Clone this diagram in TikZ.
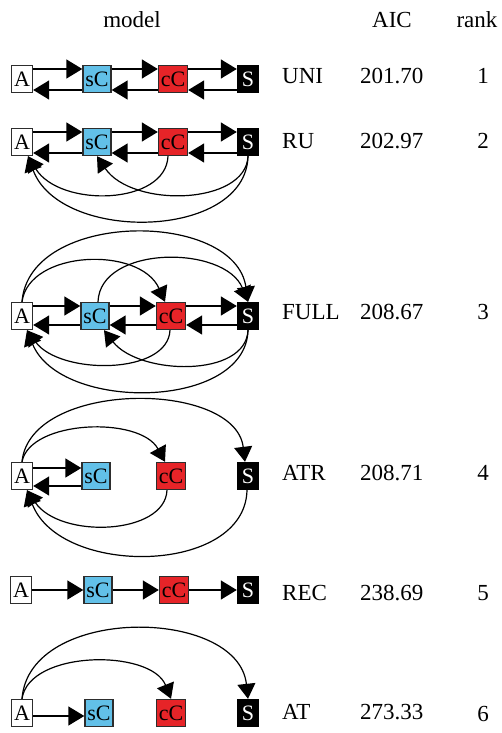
\documentclass[tikz,border=0pt]{standalone}
\usepackage{fontspec}
\setmainfont{Liberation Serif}
\usetikzlibrary{arrows.meta}
\definecolor{sblue}{RGB}{98,192,232}
\definecolor{cred}{RGB}{230,36,40}
\definecolor{edgegray}{RGB}{45,45,45}
\begin{document}
\begin{tikzpicture}[x=1pt,y=-1pt,
  box/.style={draw=edgegray,line width=1.4pt,minimum height=27pt,inner sep=0pt,font=\fontsize{22}{24}\selectfont},
  abox/.style={box,fill=white,minimum width=21pt},
  sbox/.style={box,fill=sblue,minimum width=28pt},
  cbox/.style={box,fill=cred,minimum width=29pt},
  kbox/.style={box,fill=black,draw=black,text=white,minimum width=21pt},
  arr/.style={line width=1.5pt,-{Triangle[length=16pt,width=19pt]}},
  carr/.style={line width=1.2pt,-{Triangle[length=15pt,width=18pt]}},
  lab/.style={anchor=base west,inner sep=0pt,font=\fontsize{23}{27}\selectfont},
  rk/.style={anchor=base,inner sep=0pt,font=\fontsize{23}{27}\selectfont}
]
\useasboundingbox (0,0) rectangle (502,733);

% headers
\node[rk] (hmodel) at (132,28) {model};
\node[rk] (haic) at (392,28) {AIC};
\node[rk] (hrank) at (477,28) {rank};

% ---------- Row 1: UNI
\node[abox] (a1) at (22,79) {A};
\node[sbox] (s1) at (97,79) {sC};
\node[cbox] (c1) at (173,79) {cC};
\node[kbox] (k1) at (248,79) {S};
\draw[arr] ([yshift=10pt]a1.east) -- ([yshift=10pt]s1.west);
\draw[arr] ([yshift=10pt]s1.east) -- ([yshift=10pt]c1.west);
\draw[arr] ([yshift=10pt]c1.east) -- ([yshift=10pt]k1.west);
\draw[arr] ([yshift=-11pt]s1.west) -- ([yshift=-11pt]a1.east);
\draw[arr] ([yshift=-11pt]c1.west) -- ([yshift=-11pt]s1.east);
\draw[arr] ([yshift=-11pt]k1.west) -- ([yshift=-11pt]c1.east);
\node[lab] (l1) at (282,84) {UNI};
\node[lab] (v1) at (360,84) {201.70};
\node[rk] (r1) at (483,84) {1};

% ---------- Row 2: RU
\node[abox] (a2) at (22,142) {A};
\node[sbox] (s2) at (97,142) {sC};
\node[cbox] (c2) at (173,142) {cC};
\node[kbox] (k2) at (248,142) {S};
\draw[arr] ([yshift=10pt]a2.east) -- ([yshift=10pt]s2.west);
\draw[arr] ([yshift=10pt]s2.east) -- ([yshift=10pt]c2.west);
\draw[arr] ([yshift=10pt]c2.east) -- ([yshift=10pt]k2.west);
\draw[arr] ([yshift=-11pt]s2.west) -- ([yshift=-11pt]a2.east);
\draw[arr] ([yshift=-11pt]c2.west) -- ([yshift=-11pt]s2.east);
\draw[arr] ([yshift=-11pt]k2.west) -- ([yshift=-11pt]c2.east);
\draw[carr] ([xshift=-5pt]c2.south) .. controls +(-2,49) and +(32,52) .. ([xshift=6pt]a2.south);
\draw[carr] (k2.south) .. controls +(-2,49) and +(35,52) .. (s2.south);
\draw[carr] (k2.south) .. controls +(-2,84) and +(32,87) .. ([xshift=6pt]a2.south);
\node[lab] (l2) at (282,149) {RU};
\node[lab] (v2) at (360,149) {202.97};
\node[rk] (r2) at (483,149) {2};

% ---------- Row 3: FULL
\node[abox] (a3) at (22,316) {A};
\node[sbox] (s3) at (95,316) {sC};
\node[cbox] (c3) at (171,316) {cC};
\node[kbox] (k3) at (248,316) {S};
\draw[arr] ([yshift=10pt]a3.east) -- ([yshift=10pt]s3.west);
\draw[arr] ([yshift=10pt]s3.east) -- ([yshift=10pt]c3.west);
\draw[arr] ([yshift=10pt]c3.east) -- ([yshift=10pt]k3.west);
\draw[arr] ([yshift=-9pt]s3.west) -- ([yshift=-9pt]a3.east);
\draw[arr] ([yshift=-9pt]c3.west) -- ([yshift=-9pt]s3.east);
\draw[arr] ([yshift=-9pt]k3.west) -- ([yshift=-9pt]c3.east);
\draw[carr] (a3.north) .. controls +(7,-52) and +(-25,-56) .. ([xshift=-6pt]c3.north);
\draw[carr] (a3.north) .. controls +(7,-92) and +(-13,-92) .. (k3.north);
\draw[carr] ([xshift=3pt]s3.north) .. controls +(2,-57) and +(-23,-57) .. (k3.north);
\draw[carr] ([xshift=-1pt]c3.south) .. controls +(-2,45) and +(33,45) .. ([xshift=5pt]a3.south);
\draw[carr] (k3.south) .. controls +(-2,48) and +(35,45) .. ([xshift=9pt]s3.south);
\draw[carr] (k3.south) .. controls +(-2,80) and +(33,82) .. ([xshift=5pt]a3.south);
\node[lab] (l3) at (282,319) {FULL};
\node[lab] (v3) at (360,319) {208.67};
\node[rk] (r3) at (483,319) {3};

% ---------- Row 4: ATR
\node[abox] (a4) at (22,476) {A};
\node[sbox] (s4) at (96,476) {sC};
\node[cbox] (c4) at (171,476) {cC};
\node[kbox] (k4) at (248,476) {S};
\draw[arr] ([yshift=8pt]a4.east) -- ([yshift=8pt]s4.west);
\draw[arr] ([yshift=-10pt]s4.west) -- ([yshift=-10pt]a4.east);
\draw[carr] (a4.north) .. controls +(8,-42) and +(-25,-46) .. ([xshift=-6pt]c4.north);
\draw[carr] (a4.north) .. controls +(8,-82) and +(-10,-82) .. ([xshift=-3pt]k4.north);
\draw[carr] ([xshift=-4pt]c4.south) .. controls +(-2,45) and +(33,49) .. ([xshift=5pt]a4.south);
\draw[carr] ([xshift=-1pt]k4.south) .. controls +(-2,85) and +(33,87) .. ([xshift=5pt]a4.south);
\node[lab] (l4) at (282,480) {ATR};
\node[lab] (v4) at (360,480) {208.71};
\node[rk] (r4) at (483,480) {4};

% ---------- Row 5: REC
\node[abox] (a5) at (21,590) {A};
\node[sbox] (s5) at (98,590) {sC};
\node[cbox] (c5) at (174,590) {cC};
\node[kbox] (k5) at (248,590) {S};
\draw[arr] (a5.east) -- (s5.west);
\draw[arr] (s5.east) -- (c5.west);
\draw[arr] (c5.east) -- (k5.west);
\node[lab] (l5) at (282,600) {REC};
\node[lab] (v5) at (360,600) {238.69};
\node[rk] (r5) at (483,600) {5};

% ---------- Row 6: AT
\node[abox] (a6) at (22,713) {A};
\node[sbox] (s6) at (99,713) {sC};
\node[cbox] (c6) at (171,713) {cC};
\node[kbox] (k6) at (248,713) {S};
\draw[arr] ([yshift=-3pt]a6.east) -- ([yshift=-3pt]s6.west);
\draw[carr] (a6.north) .. controls +(7,-49) and +(-20,-50) .. (c6.north);
\draw[carr] (a6.north) .. controls +(7,-94) and +(-10,-92) .. (k6.north);
\node[lab] (l6) at (282,719) {AT};
\node[lab] (v6) at (360,719) {273.33};
\node[rk] (r6) at (483,721) {6};
\end{tikzpicture}
\end{document}
